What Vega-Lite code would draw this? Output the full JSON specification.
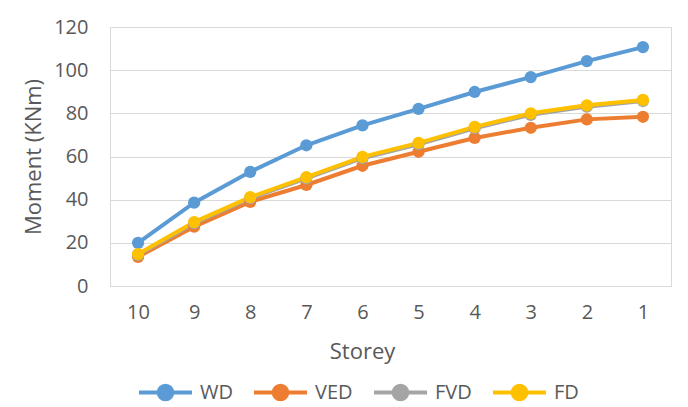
{
  "$schema": "https://vega.github.io/schema/vega-lite/v6.json",
  "autosize": "none",
  "width": 561,
  "height": 259,
  "padding": {"left": 110, "top": 27, "right": 17, "bottom": 121},
  "background": "white",
  "data": {
    "values": [
      {"storey": 10, "series": "WD", "moment": 20.0},
      {"storey": 9, "series": "WD", "moment": 38.6},
      {"storey": 8, "series": "WD", "moment": 52.9},
      {"storey": 7, "series": "WD", "moment": 65.2},
      {"storey": 6, "series": "WD", "moment": 74.4},
      {"storey": 5, "series": "WD", "moment": 82.1},
      {"storey": 4, "series": "WD", "moment": 89.9},
      {"storey": 3, "series": "WD", "moment": 96.8},
      {"storey": 2, "series": "WD", "moment": 104.2},
      {"storey": 1, "series": "WD", "moment": 110.7},
      {"storey": 10, "series": "VED", "moment": 13.5},
      {"storey": 9, "series": "VED", "moment": 27.5},
      {"storey": 8, "series": "VED", "moment": 39.0},
      {"storey": 7, "series": "VED", "moment": 46.8},
      {"storey": 6, "series": "VED", "moment": 55.7},
      {"storey": 5, "series": "VED", "moment": 62.2},
      {"storey": 4, "series": "VED", "moment": 68.6},
      {"storey": 3, "series": "VED", "moment": 73.3},
      {"storey": 2, "series": "VED", "moment": 77.2},
      {"storey": 1, "series": "VED", "moment": 78.4},
      {"storey": 10, "series": "FVD", "moment": 14.4},
      {"storey": 9, "series": "FVD", "moment": 29.1},
      {"storey": 8, "series": "FVD", "moment": 40.7},
      {"storey": 7, "series": "FVD", "moment": 49.9},
      {"storey": 6, "series": "FVD", "moment": 59.2},
      {"storey": 5, "series": "FVD", "moment": 65.7},
      {"storey": 4, "series": "FVD", "moment": 73.1},
      {"storey": 3, "series": "FVD", "moment": 79.3},
      {"storey": 2, "series": "FVD", "moment": 83.1},
      {"storey": 1, "series": "FVD", "moment": 85.7},
      {"storey": 10, "series": "FD", "moment": 14.8},
      {"storey": 9, "series": "FD", "moment": 29.6},
      {"storey": 8, "series": "FD", "moment": 41.2},
      {"storey": 7, "series": "FD", "moment": 50.4},
      {"storey": 6, "series": "FD", "moment": 59.8},
      {"storey": 5, "series": "FD", "moment": 66.3},
      {"storey": 4, "series": "FD", "moment": 73.7},
      {"storey": 3, "series": "FD", "moment": 80.0},
      {"storey": 2, "series": "FD", "moment": 83.7},
      {"storey": 1, "series": "FD", "moment": 86.2}
    ]
  },
  "encoding": {
    "x": {
      "field": "storey",
      "type": "ordinal",
      "sort": "descending",
      "title": "Storey",
      "axis": {
        "labelAngle": 0,
        "ticks": false,
        "tickSize": 0,
        "labelPadding": 16,
        "domainColor": "#D9D9D9",
        "titleX": 252,
        "titleY": 72,
        "titleBaseline": "alphabetic",
        "titleAlign": "center"
      }
    },
    "y": {
      "field": "moment",
      "type": "quantitative",
      "title": "Moment (KNm)",
      "scale": {"domain": [0, 120], "nice": false},
      "axis": {
        "values": [0, 20, 40, 60, 80, 100, 120],
        "ticks": false,
        "tickSize": 0,
        "labelPadding": 22,
        "domain": false,
        "grid": true,
        "gridColor": "#D9D9D9",
        "titlePadding": 8
      }
    },
    "color": {
      "field": "series",
      "type": "nominal",
      "sort": ["WD", "VED", "FVD", "FD"],
      "scale": {
        "domain": ["WD", "VED", "FVD", "FD"],
        "range": ["#5B9BD5", "#ED7D31", "#A5A5A5", "#FFC000"]
      },
      "legend": {
        "title": null,
        "orient": "none",
        "direction": "horizontal",
        "legendX": 27,
        "legendY": 337,
        "symbolType": "M-1,0H-0.26A0.26,0.26,0,1,1,0.26,0A0.26,0.26,0,1,1,-0.26,0M0.26,0H1",
        "symbolSize": 2809,
        "symbolStrokeWidth": 3.8,
        "labelOffset": 6,
        "columnPadding": 13,
        "encode": {
          "symbols": {
            "update": {
              "fill": {"scale": "color", "field": "value"},
              "stroke": {"scale": "color", "field": "value"},
              "opacity": {"value": 1}
            }
          }
        }
      }
    },
    "order": {"field": "storey", "type": "quantitative", "sort": "descending"}
  },
  "mark": {
    "type": "line",
    "strokeWidth": 4,
    "point": {"filled": true, "size": 150, "opacity": 1}
  },
  "config": {
    "font": "Open Sans",
    "view": {"stroke": "#D9D9D9", "strokeWidth": 1},
    "axis": {
      "labelFont": "Open Sans",
      "labelFontSize": 20,
      "labelColor": "#595959",
      "titleFont": "Open Sans",
      "titleFontSize": 22,
      "titleFontWeight": "normal",
      "titleColor": "#595959"
    },
    "legend": {
      "labelFont": "Open Sans",
      "labelFontSize": 20,
      "labelColor": "#595959"
    }
  }
}
